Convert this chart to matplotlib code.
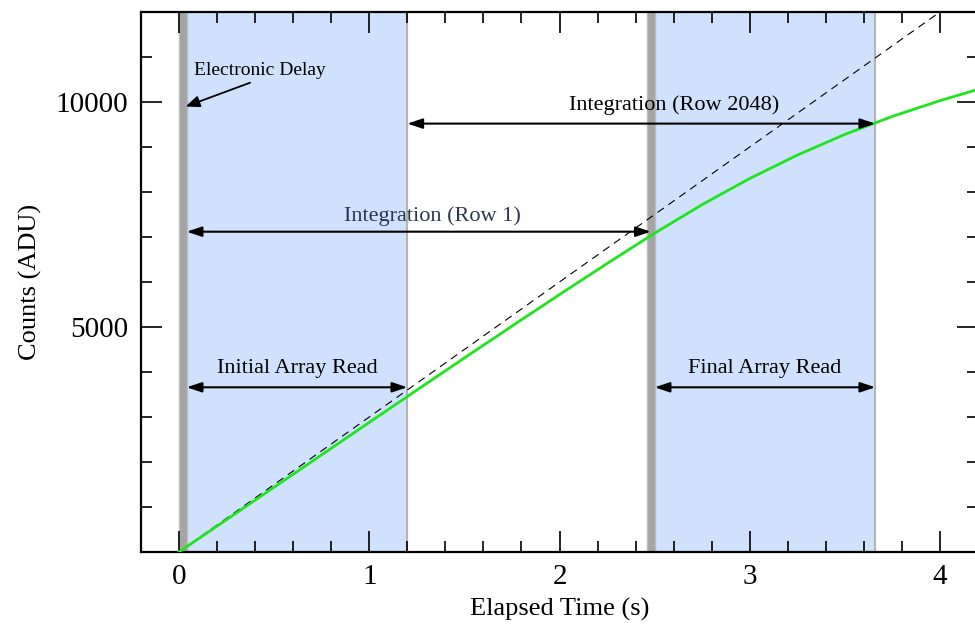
import matplotlib
matplotlib.use("Agg")
import matplotlib.pyplot as plt
from matplotlib.ticker import MultipleLocator, FuncFormatter

plt.rcParams['font.family'] = ['Liberation Serif', 'DejaVu Serif']

# ---- data ----
time_s = [0, 0.25, 0.5, 0.75, 1.0, 1.25, 1.5, 1.75, 2.0, 2.25, 2.5, 2.75,
          3.0, 3.25, 3.5, 3.75, 4.0, 4.2]
counts = [0, 720, 1440, 2160, 2880, 3598, 4312, 5020, 5720, 6410, 7085, 7720,
          8300, 8820, 9280, 9680, 10030, 10280]
linear_t = [0, 4.2]
linear_counts = [0, 12600]

delay_bands = [(0.0, 0.04), (2.46, 2.50)]
read_bands = [(0.04, 1.2), (2.50, 3.66)]

# arrows: (x0, x1, y, label, label_x, label_y, color)
arrow_specs = [
    (0.04, 1.2, 3660, "Initial Array Read", 0.62, 4080, "black"),
    (2.50, 3.66, 3660, "Final Array Read", 3.08, 4080, "black"),
    (0.04, 2.48, 7118, "Integration (Row 1)", 1.33, 7470, "#2b3650"),
    (1.2, 3.66, 9520, "Integration (Row 2048)", 2.6, 9920, "black"),
]

fig = plt.figure(figsize=(9.75, 6.25), dpi=100)
ax = fig.add_axes([141/975, 73/625, 837/975, 540/625])

for a, b in read_bands:
    ax.axvspan(a, b, facecolor="#cfe1fd", edgecolor="#b4b4b4", linewidth=1.5, zorder=0)
for a, b in delay_bands:
    ax.axvspan(a, b, facecolor="#a4a4a4", edgecolor="#bdbdbd", linewidth=1.0, zorder=0.5)

ax.plot(linear_t, linear_counts, color="black", linestyle=(0, (7, 5)), linewidth=0.8, zorder=2)
ax.plot(time_s, counts, color="#1ee51e", linewidth=2.0, zorder=3, solid_joinstyle="round")

for x0, x1, y, lab, lx, ly, col in arrow_specs:
    ax.annotate("", xy=(x1, y), xytext=(x0, y),
                arrowprops=dict(arrowstyle="<|-|>,head_length=0.9,head_width=0.3",
                                color="black", lw=1.5, shrinkA=0, shrinkB=0), zorder=4)
    ax.text(lx, ly, lab, ha="center", va="center", fontsize=16, color=col, zorder=5)

ax.annotate("Electronic Delay", xy=(0.035, 9900), xytext=(0.08, 10700),
            fontsize=14, ha="left", va="center",
            arrowprops=dict(arrowstyle="-|>,head_length=0.6,head_width=0.25",
                            color="black", lw=1.3, shrinkA=2, shrinkB=0,
                            relpos=(0.5, 0.0)), zorder=5)

ax.set_xlim(-0.2, 4.2)
ax.set_ylim(0, 12000)
ax.xaxis.set_major_locator(MultipleLocator(1))
ax.xaxis.set_minor_locator(MultipleLocator(0.2))
ax.yaxis.set_major_locator(MultipleLocator(5000))
ax.yaxis.set_minor_locator(MultipleLocator(1000))
ax.yaxis.set_major_formatter(FuncFormatter(lambda v, p: "" if v == 0 else f"{v:.0f}"))
ax.tick_params(which="both", direction="in", top=True, right=True, width=1.2, labelsize=21)
ax.tick_params(which="major", length=15, pad=9)
ax.tick_params(which="minor", length=8)
for s in ax.spines.values():
    s.set_linewidth(1.6)

ax.set_xlabel("Elapsed Time (s)", fontsize=19, labelpad=5)
ax.set_ylabel("Counts (ADU)", fontsize=19, labelpad=10)

fig.savefig("out.png", dpi=100)
